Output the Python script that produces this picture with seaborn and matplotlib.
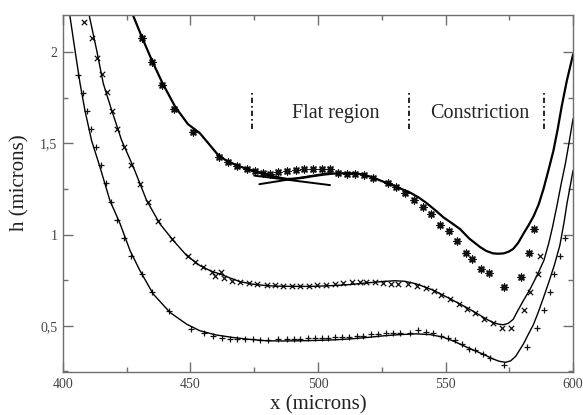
import matplotlib
matplotlib.use("Agg")
import matplotlib.pyplot as plt
import pandas as pd
import seaborn as sns
from matplotlib.ticker import MultipleLocator, FuncFormatter

# ---- measured film thickness (markers) ----
star_x = [431, 434.8, 438.7, 443.6, 450.8, 461, 464.8, 468.4, 472, 475.3, 478.6, 481.2,
          484.4, 487.7, 491.2, 494.6, 497.9, 501.4, 504.7, 507.7, 511.2, 514.5, 518.1,
          521.7, 527.3, 530.6, 534.1, 537.5, 541, 544.3, 547.8, 551.2, 554.6, 557.9,
          560.5, 563.9, 567.2, 572.8, 579.5, 582.9, 584.7]
star_y = [2.075, 1.947, 1.82, 1.687, 1.56, 1.425, 1.40, 1.375, 1.357, 1.346, 1.339, 1.333,
          1.342, 1.346, 1.352, 1.357, 1.361, 1.361, 1.357, 1.337, 1.333, 1.330, 1.324,
          1.311, 1.284, 1.26, 1.229, 1.187, 1.15, 1.112, 1.052, 1.02, 0.962, 0.899,
          0.866, 0.811, 0.787, 0.713, 0.770, 0.901, 1.030]

cross_x = [408.4, 411.2, 413.4, 415.2, 417.4, 419.2, 421.3, 423.9, 426.5, 430.2, 433.2,
           437.4, 442.6, 449.1, 451.8, 455, 458.3, 459.6, 461.8, 463.1, 466.1, 469.4,
           473.1, 476.2, 479.9, 483.1, 486.4, 489.9, 493, 496.5, 499.7, 503.1, 506.7,
           509.9, 513.2, 516.5, 518.8, 522.4, 525.6, 528.5, 531.5, 535.4, 538.7, 542.4,
           545.5, 548.1, 551.8, 555.1, 558.3, 561.6, 565.1, 568.5, 572.1, 575.6, 580.6,
           583.1, 586.4, 587.1]
cross_y = [2.165, 2.075, 1.969, 1.879, 1.779, 1.678, 1.579, 1.48, 1.383, 1.279, 1.177,
           1.077, 0.976, 0.885, 0.852, 0.82, 0.797, 0.775, 0.793, 0.762, 0.747, 0.742,
           0.733, 0.729, 0.725, 0.724, 0.72, 0.72, 0.72, 0.72, 0.725, 0.724, 0.729,
           0.733, 0.738, 0.742, 0.742, 0.738, 0.733, 0.729, 0.729, 0.729, 0.72, 0.707,
           0.692, 0.668, 0.647, 0.622, 0.592, 0.568, 0.537, 0.513, 0.486, 0.486, 0.586,
           0.685, 0.784, 0.882]

plus_x = [406, 408, 409.5, 410.9, 412.8, 414.8, 416.7, 418.8, 421, 423.9, 426.7, 430.8,
          434.8, 441.7, 450.1, 455.3, 459, 462.2, 465.5, 468.4, 471.4, 474.4, 477.3,
          480.5, 484.4, 487.7, 490.6, 493, 496.2, 498.8, 501.4, 504, 506.7, 509.3,
          512.3, 515.2, 517.8, 520.7, 523.6, 526.5, 529.5, 532.2, 536.1, 539.3, 542.4,
          545.2, 548.1, 551.1, 553.7, 556.4, 559, 561.6, 564.6, 567.5, 573, 581.9, 586,
          588.6, 591, 592.5, 594.9, 596.7]
plus_y = [1.874, 1.773, 1.676, 1.579, 1.48, 1.383, 1.282, 1.177, 1.082, 0.98, 0.881,
          0.784, 0.683, 0.582, 0.485, 0.463, 0.445, 0.436, 0.43, 0.427, 0.427, 0.427,
          0.423, 0.421, 0.427, 0.427, 0.427, 0.427, 0.436, 0.436, 0.436, 0.436, 0.44,
          0.44, 0.441, 0.445, 0.445, 0.454, 0.454, 0.46, 0.463, 0.463, 0.463, 0.476,
          0.467, 0.458, 0.445, 0.436, 0.421, 0.403, 0.375, 0.366, 0.348, 0.326, 0.286,
          0.385, 0.487, 0.586, 0.687, 0.784, 0.882, 0.982]

# ---- model profiles (solid curves) ----
fit1_x = [427.5, 431, 435, 439, 444, 449, 453.7, 457, 460.4, 463.5, 466.7, 470.6, 476,
          481, 484.5, 487.7, 491, 494.5, 498, 502, 506, 510, 514, 517, 521, 525, 529.5,
          533, 536.1, 539.5, 542.6, 546, 549.1, 552.5, 555.7, 559.3, 563.5, 566, 568.6,
          570.7, 572.8, 574.7, 576.5, 578.5, 580.5, 582.5, 584.5, 586.5, 588.4, 590.3,
          592.3, 594, 595.5, 597.5, 600]
fit1_y = [2.20, 2.08, 1.95, 1.83, 1.70, 1.605, 1.555, 1.50, 1.443, 1.41, 1.388, 1.367,
          1.343, 1.324, 1.313, 1.305, 1.306, 1.312, 1.32, 1.328, 1.334, 1.336, 1.335,
          1.331, 1.315, 1.293, 1.269, 1.248, 1.23, 1.203, 1.172, 1.133, 1.095, 1.062,
          1.03, 0.978, 0.932, 0.910, 0.897, 0.895, 0.897, 0.906, 0.921, 0.955, 1.004,
          1.05, 1.10, 1.165, 1.25, 1.35, 1.46, 1.58, 1.70, 1.84, 1.987]

fit2_x = [410.3, 413.2, 415.8, 419.1, 423, 427.6, 432.8, 438, 443.3, 448.5, 453.7, 458,
          461.6, 465.5, 469.4, 474.5, 479.9, 485, 490, 497.5, 505, 512.5, 519, 525.6,
          530, 534, 538.5, 545.1, 551.5, 558.3, 563.5, 566.5, 568.7, 570.8, 572.6, 574.5,
          576.5, 578, 580.5, 583.1, 586, 588.6, 590.5, 592, 593.7, 595.4, 597, 598.5, 600]
fit2_y = [2.2, 2.011, 1.828, 1.681, 1.516, 1.37, 1.187, 1.059, 0.967, 0.885, 0.83, 0.80,
          0.784, 0.762, 0.742, 0.728, 0.72, 0.717, 0.716, 0.716, 0.72, 0.726, 0.735,
          0.743, 0.747, 0.744, 0.73, 0.696, 0.65, 0.60, 0.558, 0.533, 0.518, 0.509, 0.506,
          0.513, 0.535, 0.575, 0.638, 0.70, 0.78, 0.86, 0.955, 1.045, 1.16, 1.283, 1.39,
          1.51, 1.636]

fit3_x = [402.7, 404.7, 406.7, 408.6, 411.2, 414.5, 418.4, 422.4, 426.3, 430.2, 435.4,
          442, 448.5, 453.7, 460, 466.7, 473, 479.9, 486.5, 493, 499.5, 506, 512.5, 519.1,
          525.5, 532.2, 538.5, 544, 549, 553.5, 558.3, 563.5, 566.5, 568.7, 571, 573.5,
          575.5, 577.5, 580.5, 582.5, 584.4, 586.5, 588.4, 590.5, 592.6, 594.8, 596.5,
          597.6, 598.8, 600]
fit3_y = [2.2, 2.011, 1.828, 1.681, 1.516, 1.37, 1.187, 1.059, 0.912, 0.802, 0.674,
          0.573, 0.509, 0.473, 0.45, 0.436, 0.426, 0.418, 0.417, 0.418, 0.42, 0.423,
          0.428, 0.436, 0.445, 0.452, 0.456, 0.452, 0.438, 0.414, 0.383, 0.352, 0.333,
          0.318, 0.306, 0.300, 0.308, 0.333, 0.40, 0.455, 0.505, 0.58, 0.655, 0.74, 0.83,
          0.94, 1.07, 1.17, 1.26, 1.352]

# tangent segments crossing in the flat region
tan_a_x = [477, 505]
tan_a_y = [1.276, 1.338]
tan_b_x = [475, 504.7]
tan_b_y = [1.323, 1.271]

# region boundaries and labels
bound_x = [474.2, 535.8, 588.4]
bound_ylo, bound_yhi = 1.58, 1.79
region_labels = ["Flat region", "Constriction"]
region_label_x = [506.8, 563.4]
region_label_y = 1.665

x_ticks = [400, 450, 500, 550, 600]
y_ticks = [0.5, 1.0, 1.5, 2.0]

sns.set_style("ticks")
plt.rcParams["font.family"] = ["Liberation Serif", "DejaVu Serif"]

fig = plt.figure(figsize=(5.83, 4.15), dpi=100)
ax = fig.add_axes([0.108, 0.1036, 0.875, 0.8603])

curves = [(fit1_x, fit1_y, 1.6), (fit2_x, fit2_y, 1.0), (fit3_x, fit3_y, 1.0)]
for cx, cy, lw in curves:
    sns.lineplot(data=pd.DataFrame({"x": cx, "h": cy}), x="x", y="h", sort=False,
                 estimator=None, color="black", linewidth=lw, ax=ax)

for tx, ty in [(tan_a_x, tan_a_y), (tan_b_x, tan_b_y)]:
    sns.lineplot(data=pd.DataFrame({"x": tx, "h": ty}), x="x", y="h", sort=False,
                 estimator=None, color="black", linewidth=1.4, ax=ax)

sns.scatterplot(data=pd.DataFrame({"x": star_x, "h": star_y}), x="x", y="h",
                marker=(8, 2, 0), s=24, color="#111111", linewidth=1.0, ax=ax)
sns.scatterplot(data=pd.DataFrame({"x": cross_x, "h": cross_y}), x="x", y="h",
                marker="x", s=15, color="#111111", linewidth=0.9, ax=ax)
sns.scatterplot(data=pd.DataFrame({"x": plus_x, "h": plus_y}), x="x", y="h",
                marker="+", s=20, color="#111111", linewidth=0.9, ax=ax)

ax.vlines(bound_x, bound_ylo, bound_yhi, colors="black", linewidth=1.2,
          linestyles=[(0, (3.2, 1.8, 1.0, 1.8))])
for lab, lx in zip(region_labels, region_label_x):
    ax.text(lx, region_label_y, lab, ha="center", va="center", fontsize=14.5)

ax.set_xlim(400, 600)
ax.set_ylim(0.247, 2.203)
ax.set_xticks(x_ticks)
ax.set_yticks(y_ticks)
ax.xaxis.set_minor_locator(MultipleLocator(25))
ax.yaxis.set_minor_locator(MultipleLocator(0.25))
ax.yaxis.set_major_formatter(FuncFormatter(lambda v, p: f"{v:g}".replace(".", ",")))

spine_col = "#6e6e6e"
for sp in ax.spines.values():
    sp.set_visible(True)
    sp.set_color(spine_col)
    sp.set_linewidth(1.0)
ax.tick_params(which="both", direction="in", top=True, right=True, color=spine_col,
               width=1.0, labelsize=10, labelcolor="#444444", pad=4)
ax.tick_params(which="major", length=7)
ax.tick_params(which="minor", length=3.5)

ax.set_xlabel("x (microns)", fontsize=15, color="#222222")
ax.set_ylabel("h (microns)", fontsize=15, color="#222222")
ax.xaxis.set_label_coords(0.5, -0.065)
ax.yaxis.set_label_coords(-0.066, 0.53)

fig.savefig("out.png", dpi=100)
